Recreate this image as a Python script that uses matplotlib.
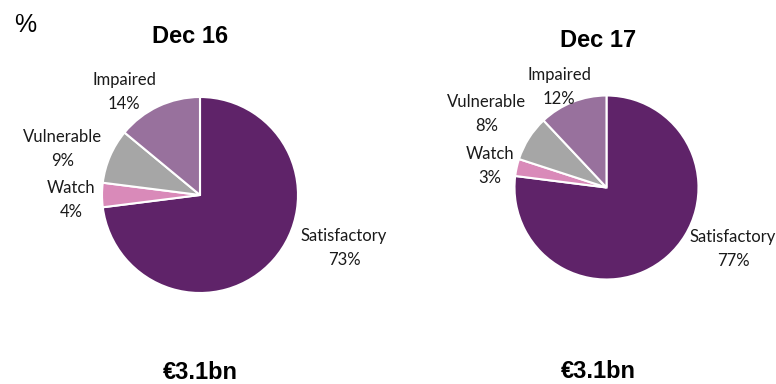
import matplotlib

matplotlib.use('Agg')
import matplotlib.pyplot as plt

# data
categories = ['Satisfactory', 'Watch', 'Vulnerable', 'Impaired']
dec16 = [73, 4, 9, 14]
dec17 = [77, 3, 8, 12]
periods = ['Dec 16', 'Dec 17']
totals = ['€3.1bn', '€3.1bn']
colors = ['#5F2369', '#D98AB9', '#A6A6A6', '#98719D']

W, H = 776, 384

# layout in pixels from top-left
pie_centers = [(200, 195), (606.5, 187.5)]
pie_radius = [98, 92]
title_pos = [(190, 43), (598, 47)]
total_pos = [(200, 379), (598, 378)]
label_pos = [
    [(344, 248), (71, 200), (63, 149), (124, 92)],
    [(733, 249), (490, 166), (487, 114), (559, 87)],
]

fig = plt.figure(figsize=(W / 100, H / 100), dpi=100)
ax = fig.add_axes([0, 0, 1, 1])

for i, vals in enumerate([dec16, dec17]):
    cx, cy = pie_centers[i]
    ax.pie(vals, colors=colors, startangle=90, counterclock=False,
           center=(cx, H - cy), radius=pie_radius[i], frame=True,
           wedgeprops=dict(edgecolor='white', linewidth=1.5))
    for j, cat in enumerate(categories):
        lx, ly = label_pos[i][j]
        ax.text(lx, H - ly, f'{cat}\n{vals[j]}%', ha='center', va='center',
                fontsize=12, family='Lato', color='#1a1a1a', linespacing=1.55)
    tx, ty = title_pos[i]
    ax.text(tx, H - ty, periods[i], ha='center', va='baseline',
            fontsize=17, fontweight='bold', family='Liberation Sans')
    bx, by = total_pos[i]
    ax.text(bx, H - by, totals[i], ha='center', va='baseline',
            fontsize=17, fontweight='bold', family='Liberation Sans')

fig.text(25 / W, 1 - 25 / H, '%', ha='center', va='center',
         fontsize=18, family='Liberation Sans')

ax.set_xlim(0, W)
ax.set_ylim(0, H)
ax.set_aspect('equal')
ax.axis('off')

plt.savefig('out.png', dpi=100)
plt.close()
